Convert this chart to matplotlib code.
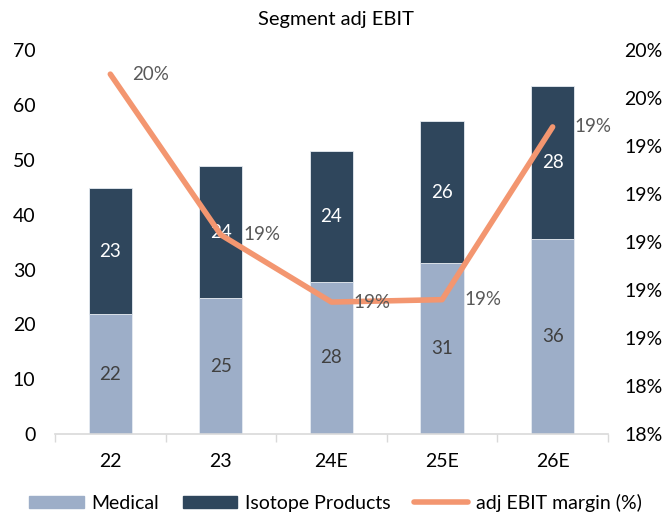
import numpy as np
import matplotlib
matplotlib.use('Agg')
import matplotlib.pyplot as plt
from matplotlib.ticker import FuncFormatter, MultipleLocator
from matplotlib.lines import Line2D
from matplotlib.patches import Patch

plt.rcParams['font.family'] = ['Lato', 'DejaVu Sans']

#-------------------------------------
# Data
#-------------------------------------
years = ['22', '23', '24E', '25E', '26E']
medical = [21.8, 24.8, 27.8, 31.1, 35.6]
isotope = [23.0, 24.0, 23.8, 25.9, 27.8]
margin = [19.70, 19.03, 18.75, 18.76, 19.48]   # adj EBIT margin, %

c_med = '#9daec8'
c_iso = '#2f465c'
c_line = '#f39670'

fig = plt.figure(figsize=(6.71, 5.17), dpi=100)
ax = fig.add_axes([0.082, 0.1605, 0.824, 0.7425])
x = np.arange(len(years))
w = 0.39

#------------------------
# Stacked bars
#------------------------
ax.bar(x, medical, w, color=c_med, edgecolor='#e6ebf2', linewidth=0.6, zorder=2)
ax.bar(x, isotope, w, bottom=medical, color=c_iso, edgecolor='#e6ebf2', linewidth=0.6, zorder=2)
for i in range(len(years)):
    ax.text(x[i], medical[i] / 2, '%.0f' % medical[i], ha='center', va='center',
            fontsize=13.5, color='#404040', zorder=3)
    ax.text(x[i], medical[i] + isotope[i] / 2, '%.0f' % isotope[i], ha='center', va='center',
            fontsize=13.5, color='white', zorder=3)

ax.set_ylim(0, 70)
ax.set_xlim(-0.5, 4.5)
ax.yaxis.set_major_locator(MultipleLocator(10))
ax.set_xticks(x)
ax.set_xticklabels(years)
ax.set_xticks(np.arange(-0.5, 5, 1), minor=True)
ax.tick_params(axis='x', which='major', length=0, pad=14, labelsize=14)
ax.tick_params(axis='x', which='minor', length=6, color='#d9d9d9', width=1)
ax.tick_params(axis='y', length=0, pad=14, labelsize=14)
for s in ['top', 'right', 'left']:
    ax.spines[s].set_visible(False)
ax.spines['bottom'].set_color('#d9d9d9')
ax.spines['bottom'].set_linewidth(1.2)

#------------------------
# Margin line, right axis
#------------------------
ax2 = ax.twinx()
ax2.plot(x, margin, color=c_line, lw=4, solid_capstyle='round', solid_joinstyle='round', zorder=4)
ax2.set_ylim(18.2, 19.8)
ax2.set_yticks(np.linspace(18.2, 19.8, 9))
ax2.yaxis.set_major_formatter(FuncFormatter(lambda v, p: '%d%%' % int(np.floor(v + 0.5 + 1e-9))))
ax2.tick_params(axis='y', length=0, pad=12, labelsize=14)
for s in ['top', 'right', 'left', 'bottom']:
    ax2.spines[s].set_visible(False)
for i in range(len(years)):
    ax2.text(x[i] + 0.2, margin[i], '%d%%' % int(np.floor(margin[i] + 0.5)),
             ha='left', va='center', fontsize=13.5, color='#595959', zorder=5)

fig.suptitle('Segment adj EBIT', y=0.978, fontsize=14.5)

handles = [Patch(color=c_med), Patch(color=c_iso),
           Line2D([0], [0], color=c_line, lw=4, solid_capstyle='round')]
fig.legend(handles, ['Medical', 'Isotope Products', 'adj EBIT margin (%)'],
           loc='lower center', bbox_to_anchor=(0.5, -0.024), ncol=3, frameon=False,
           fontsize=14, handlelength=2.8, handleheight=0.6, columnspacing=1.2, handletextpad=0.4)

plt.savefig('out.png', dpi=100)
